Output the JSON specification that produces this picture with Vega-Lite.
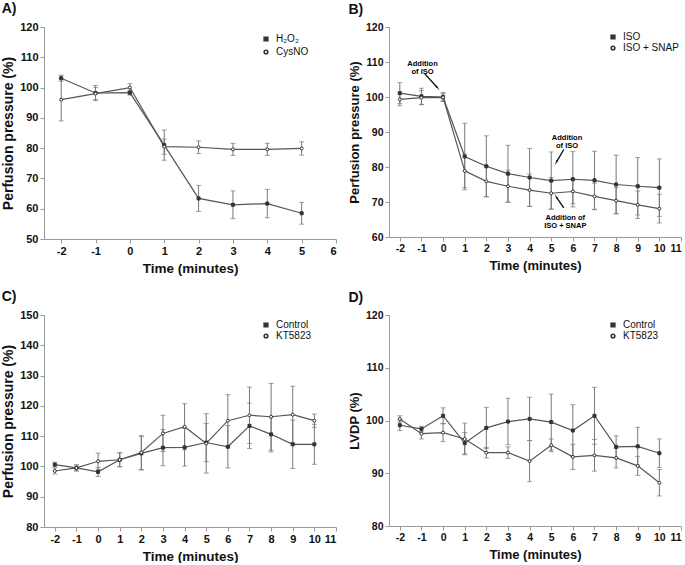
{
  "$schema": "https://vega.github.io/schema/vega-lite/v6.json",
  "background": "white",
  "padding": {"left": 1, "top": 2, "right": 2, "bottom": 0},
  "config": {
    "font": "Liberation Sans",
    "view": {"stroke": null},
    "axis": {"grid": false, "domainColor": "#9a9a9a", "tickColor": "#9a9a9a", "tickSize": 4, "labelFontWeight": "bold", "labelColor": "#111", "titleFontWeight": "bold", "titleColor": "#111", "labelPadding": 2, "titlePadding": 4, "labelExpr": "datum.value"},
    "title": {"fontSize": 14, "fontWeight": "bold", "anchor": "start", "frame": "bounds", "color": "#111", "offset": 5},
    "legend": {"labelFontSize": 10, "labelColor": "#111", "rowPadding": 1, "symbolSize": 14, "labelOffset": 5}
  },
  "datasets": {
    "A": [
      {"t": -2, "series": "H₂O₂", "mean": 103.1, "err": 1.0},
      {"t": -1, "series": "H₂O₂", "mean": 98.2, "err": 2.5},
      {"t": 0, "series": "H₂O₂", "mean": 98.3, "err": 0.8},
      {"t": 1, "series": "H₂O₂", "mean": 81.0, "err": 5.0},
      {"t": 2, "series": "H₂O₂", "mean": 63.4, "err": 4.3},
      {"t": 3, "series": "H₂O₂", "mean": 61.3, "err": 4.6},
      {"t": 4, "series": "H₂O₂", "mean": 61.7, "err": 4.7},
      {"t": 5, "series": "H₂O₂", "mean": 58.5, "err": 3.6},
      {"t": -2, "series": "CysNO", "mean": 96.0, "err": 7.0},
      {"t": -1, "series": "CysNO", "mean": 98.0, "err": 2.0},
      {"t": 0, "series": "CysNO", "mean": 100.0, "err": 1.3},
      {"t": 1, "series": "CysNO", "mean": 80.5, "err": 2.5},
      {"t": 2, "series": "CysNO", "mean": 80.3, "err": 2.1},
      {"t": 3, "series": "CysNO", "mean": 79.6, "err": 2.0},
      {"t": 4, "series": "CysNO", "mean": 79.6, "err": 2.0},
      {"t": 5, "series": "CysNO", "mean": 79.9, "err": 2.2}
    ],
    "B": [
      {"t": -2, "series": "ISO", "mean": 101.1, "err": 3.0},
      {"t": -1, "series": "ISO", "mean": 100.2, "err": 2.3},
      {"t": 0, "series": "ISO", "mean": 100.0, "err": 1.3},
      {"t": 1, "series": "ISO", "mean": 83.0, "err": 9.5},
      {"t": 2, "series": "ISO", "mean": 80.2, "err": 8.7},
      {"t": 3, "series": "ISO", "mean": 78.1, "err": 8.1},
      {"t": 4, "series": "ISO", "mean": 77.0, "err": 8.3},
      {"t": 5, "series": "ISO", "mean": 76.1, "err": 8.2},
      {"t": 6, "series": "ISO", "mean": 76.5, "err": 7.9},
      {"t": 7, "series": "ISO", "mean": 76.2, "err": 8.3},
      {"t": 8, "series": "ISO", "mean": 75.0, "err": 8.4},
      {"t": 9, "series": "ISO", "mean": 74.5, "err": 8.2},
      {"t": 10, "series": "ISO", "mean": 74.1, "err": 8.2},
      {"t": -2, "series": "ISO + SNAP", "mean": 99.3, "err": 1.8},
      {"t": -1, "series": "ISO + SNAP", "mean": 99.8, "err": 2.0},
      {"t": 0, "series": "ISO + SNAP", "mean": 99.9, "err": 1.0},
      {"t": 1, "series": "ISO + SNAP", "mean": 78.9, "err": 4.8},
      {"t": 2, "series": "ISO + SNAP", "mean": 75.9, "err": 4.4},
      {"t": 3, "series": "ISO + SNAP", "mean": 74.5, "err": 4.6},
      {"t": 4, "series": "ISO + SNAP", "mean": 73.4, "err": 4.6},
      {"t": 5, "series": "ISO + SNAP", "mean": 72.5, "err": 4.5},
      {"t": 6, "series": "ISO + SNAP", "mean": 73.0, "err": 3.5},
      {"t": 7, "series": "ISO + SNAP", "mean": 71.6, "err": 3.8},
      {"t": 8, "series": "ISO + SNAP", "mean": 70.4, "err": 3.7},
      {"t": 9, "series": "ISO + SNAP", "mean": 69.2, "err": 3.9},
      {"t": 10, "series": "ISO + SNAP", "mean": 68.1, "err": 4.1}
    ],
    "annB": [
      {"t": -0.95, "mean": 110.5, "label": "Addition\nof ISO"},
      {"t": 5.73, "mean": 89.5, "label": "Addition\nof ISO"},
      {"t": 5.65, "mean": 66.7, "label": "Addition of\nISO + SNAP"}
    ],
    "arrB": [
      {"id": 1, "t": -0.84, "mean": 106.6, "t2": -0.27, "mean2": 102.7},
      {"id": 2, "t": 5.58, "mean": 85.0, "t2": 5.24, "mean2": 81.4},
      {"id": 3, "t": 5.58, "mean": 68.3, "t2": 5.24, "mean2": 71.4}
    ],
    "C": [
      {"t": -2, "series": "Control", "mean": 100.6, "err": 0.8},
      {"t": -1, "series": "Control", "mean": 99.5, "err": 1.0},
      {"t": 0, "series": "Control", "mean": 98.2, "err": 1.5},
      {"t": 1, "series": "Control", "mean": 102.2, "err": 2.3},
      {"t": 2, "series": "Control", "mean": 104.3, "err": 5.5},
      {"t": 3, "series": "Control", "mean": 106.2, "err": 6.0},
      {"t": 4, "series": "Control", "mean": 106.3, "err": 6.2},
      {"t": 5, "series": "Control", "mean": 107.9, "err": 6.3},
      {"t": 6, "series": "Control", "mean": 106.5, "err": 7.0},
      {"t": 7, "series": "Control", "mean": 113.4, "err": 7.5},
      {"t": 8, "series": "Control", "mean": 110.6, "err": 5.8},
      {"t": 9, "series": "Control", "mean": 107.3, "err": 8.0},
      {"t": 10, "series": "Control", "mean": 107.3, "err": 6.6},
      {"t": -2, "series": "KT5823", "mean": 98.5, "err": 1.0},
      {"t": -1, "series": "KT5823", "mean": 99.5, "err": 1.0},
      {"t": 0, "series": "KT5823", "mean": 101.7, "err": 2.7},
      {"t": 1, "series": "KT5823", "mean": 102.2, "err": 2.3},
      {"t": 2, "series": "KT5823", "mean": 104.6, "err": 5.6},
      {"t": 3, "series": "KT5823", "mean": 110.9, "err": 6.0},
      {"t": 4, "series": "KT5823", "mean": 113.1, "err": 7.6},
      {"t": 5, "series": "KT5823", "mean": 107.6, "err": 9.8},
      {"t": 6, "series": "KT5823", "mean": 115.1, "err": 8.6},
      {"t": 7, "series": "KT5823", "mean": 116.9, "err": 9.3},
      {"t": 8, "series": "KT5823", "mean": 116.4, "err": 11.0},
      {"t": 9, "series": "KT5823", "mean": 117.1, "err": 9.4},
      {"t": 10, "series": "KT5823", "mean": 115.1, "err": 2.2}
    ],
    "D": [
      {"t": -2, "series": "Control", "mean": 99.1, "err": 1.0},
      {"t": -1, "series": "Control", "mean": 98.4, "err": 0.5},
      {"t": 0, "series": "Control", "mean": 100.9, "err": 1.5},
      {"t": 1, "series": "Control", "mean": 95.7, "err": 2.0},
      {"t": 2, "series": "Control", "mean": 98.6, "err": 3.9},
      {"t": 3, "series": "Control", "mean": 99.8, "err": 4.4},
      {"t": 4, "series": "Control", "mean": 100.3, "err": 4.1},
      {"t": 5, "series": "Control", "mean": 99.7, "err": 5.3},
      {"t": 6, "series": "Control", "mean": 98.1, "err": 4.9},
      {"t": 7, "series": "Control", "mean": 100.9, "err": 5.4},
      {"t": 8, "series": "Control", "mean": 95.0, "err": 2.1},
      {"t": 9, "series": "Control", "mean": 95.1, "err": 3.6},
      {"t": 10, "series": "Control", "mean": 93.8, "err": 2.7},
      {"t": -2, "series": "KT5823", "mean": 100.3, "err": 0.6},
      {"t": -1, "series": "KT5823", "mean": 97.5, "err": 1.0},
      {"t": 0, "series": "KT5823", "mean": 97.7, "err": 1.7},
      {"t": 1, "series": "KT5823", "mean": 96.5, "err": 3.0},
      {"t": 2, "series": "KT5823", "mean": 93.9, "err": 1.0},
      {"t": 3, "series": "KT5823", "mean": 93.9, "err": 1.1},
      {"t": 4, "series": "KT5823", "mean": 92.3, "err": 3.9},
      {"t": 5, "series": "KT5823", "mean": 95.3, "err": 1.2},
      {"t": 6, "series": "KT5823", "mean": 93.1, "err": 2.4},
      {"t": 7, "series": "KT5823", "mean": 93.4, "err": 3.0},
      {"t": 8, "series": "KT5823", "mean": 92.9, "err": 1.9},
      {"t": 9, "series": "KT5823", "mean": 91.4, "err": 1.8},
      {"t": 10, "series": "KT5823", "mean": 88.2, "err": 2.5}
    ]
  },
  "columns": 2,
  "spacing": {"row": 15, "column": 11},
  "resolve": {"scale": {"x": "independent", "y": "independent", "shape": "independent", "fill": "independent"}, "legend": {"shape": "independent", "fill": "independent"}},
  "concat": [
    {
      "title": {"text": "A)"},
      "width": 292, "height": 212,
      "data": {"name": "A"},
      "encoding": {
        "x": {"field": "t", "type": "quantitative", "scale": {"domain": [-2.5, 6], "nice": false, "zero": false}, "axis": {"values": [-2, -1, 0, 1, 2, 3, 4, 5, 6], "title": "Time (minutes)", "labelFontSize": 11, "titleFontSize": 13.5, "titlePadding": 5}},
        "y": {"field": "mean", "type": "quantitative", "scale": {"domain": [50, 120], "nice": false, "zero": false}, "axis": {"values": [50, 60, 70, 80, 90, 100, 110, 120], "title": "Perfusion pressure (%)", "labelFontSize": 11, "titleFontSize": 14}}
      },
      "layer": [
        {"mark": {"type": "errorbar", "ticks": {"size": 5}, "color": "#777", "thickness": 1}, "encoding": {"yError": {"field": "err"}}},
        {"mark": {"type": "line", "color": "#555", "strokeWidth": 1.2}, "encoding": {"detail": {"field": "series"}}},
        {"mark": {"type": "point", "size": 9, "stroke": "#333", "strokeWidth": 1, "opacity": 1},
         "encoding": {
           "shape": {"field": "series", "type": "nominal", "scale": {"domain": ["H₂O₂", "CysNO"], "range": ["square", "circle"]}, "legend": {"orient": "none", "legendX": 217, "legendY": 7, "title": null, "rowPadding": 3}},
           "fill": {"field": "series", "type": "nominal", "scale": {"domain": ["H₂O₂", "CysNO"], "range": ["#333", "white"]}, "legend": {"orient": "none", "legendX": 217, "legendY": 7, "title": null, "rowPadding": 3}}
         }}
      ]
    },
    {
      "title": {"text": "B)"},
      "width": 292, "height": 210,
      "data": {"name": "B"},
      "encoding": {
        "x": {"field": "t", "type": "quantitative", "scale": {"domain": [-2.5, 11], "nice": false, "zero": false}, "axis": {"values": [-2, -1, 0, 1, 2, 3, 4, 5, 6, 7, 8, 9, 10, 11], "title": "Time (minutes)", "labelFontSize": 10.5, "titleFontSize": 13, "titlePadding": 6}},
        "y": {"field": "mean", "type": "quantitative", "scale": {"domain": [60, 120], "nice": false, "zero": false}, "axis": {"values": [60, 70, 80, 90, 100, 110, 120], "title": "Perfusion pressure (%)", "labelFontSize": 10.5, "titleFontSize": 13}}
      },
      "layer": [
        {"mark": {"type": "errorbar", "ticks": {"size": 5}, "color": "#777", "thickness": 1}, "encoding": {"yError": {"field": "err"}}},
        {"mark": {"type": "line", "color": "#555", "strokeWidth": 1.2}, "encoding": {"detail": {"field": "series"}}},
        {"mark": {"type": "point", "size": 9, "stroke": "#333", "strokeWidth": 1, "opacity": 1},
         "encoding": {
           "shape": {"field": "series", "type": "nominal", "scale": {"domain": ["ISO", "ISO + SNAP"], "range": ["square", "circle"]}, "legend": {"orient": "none", "legendX": 219, "legendY": 5, "title": null}},
           "fill": {"field": "series", "type": "nominal", "scale": {"domain": ["ISO", "ISO + SNAP"], "range": ["#333", "white"]}, "legend": {"orient": "none", "legendX": 219, "legendY": 5, "title": null}}
         }},
        {"data": {"name": "annB"}, "mark": {"type": "text", "fontSize": 7.5, "fontWeight": "bold", "lineBreak": "\n", "lineHeight": 8, "align": "center", "baseline": "top", "color": "#000"}, "encoding": {"text": {"field": "label"}}},
        {"data": {"name": "arrB"}, "mark": {"type": "rule", "color": "#111", "strokeWidth": 1.4}, "encoding": {"x2": {"field": "t2"}, "y2": {"field": "mean2"}}},
        {"data": {"name": "arrB"}, "transform": [{"filter": "datum.id == 1"}], "mark": {"type": "point", "shape": "wedge", "angle": 140, "size": 45, "filled": true, "color": "#111", "opacity": 1}, "encoding": {"x": {"field": "t2", "type": "quantitative"}, "y": {"field": "mean2", "type": "quantitative"}}},
        {"data": {"name": "arrB"}, "transform": [{"filter": "datum.id == 2"}], "mark": {"type": "point", "shape": "wedge", "angle": 209, "size": 45, "filled": true, "color": "#111", "opacity": 1}, "encoding": {"x": {"field": "t2", "type": "quantitative"}, "y": {"field": "mean2", "type": "quantitative"}}},
        {"data": {"name": "arrB"}, "transform": [{"filter": "datum.id == 3"}], "mark": {"type": "point", "shape": "wedge", "angle": 327, "size": 45, "filled": true, "color": "#111", "opacity": 1}, "encoding": {"x": {"field": "t2", "type": "quantitative"}, "y": {"field": "mean2", "type": "quantitative"}}}
      ]
    },
    {
      "title": {"text": "C)"},
      "width": 292, "height": 212,
      "data": {"name": "C"},
      "encoding": {
        "x": {"field": "t", "type": "quantitative", "scale": {"domain": [-2.5, 11], "nice": false, "zero": false}, "axis": {"values": [-2, -1, 0, 1, 2, 3, 4, 5, 6, 7, 8, 9, 10, 11], "title": "Time (minutes)", "labelFontSize": 11, "titleFontSize": 13.5, "titlePadding": 5}},
        "y": {"field": "mean", "type": "quantitative", "scale": {"domain": [80, 150], "nice": false, "zero": false}, "axis": {"values": [80, 90, 100, 110, 120, 130, 140, 150], "title": "Perfusion pressure (%)", "labelFontSize": 11, "titleFontSize": 14}}
      },
      "layer": [
        {"mark": {"type": "errorbar", "ticks": {"size": 5}, "color": "#777", "thickness": 1}, "encoding": {"yError": {"field": "err"}}},
        {"mark": {"type": "line", "color": "#555", "strokeWidth": 1.2}, "encoding": {"detail": {"field": "series"}}},
        {"mark": {"type": "point", "size": 9, "stroke": "#333", "strokeWidth": 1, "opacity": 1},
         "encoding": {
           "shape": {"field": "series", "type": "nominal", "scale": {"domain": ["Control", "KT5823"], "range": ["square", "circle"]}, "legend": {"orient": "none", "legendX": 217, "legendY": 5, "title": null}},
           "fill": {"field": "series", "type": "nominal", "scale": {"domain": ["Control", "KT5823"], "range": ["#333", "white"]}, "legend": {"orient": "none", "legendX": 217, "legendY": 5, "title": null}}
         }}
      ]
    },
    {
      "title": {"text": "D)"},
      "width": 292, "height": 211,
      "data": {"name": "D"},
      "encoding": {
        "x": {"field": "t", "type": "quantitative", "scale": {"domain": [-2.5, 11], "nice": false, "zero": false}, "axis": {"values": [-2, -1, 0, 1, 2, 3, 4, 5, 6, 7, 8, 9, 10, 11], "title": "Time (minutes)", "labelFontSize": 10.5, "titleFontSize": 13, "titlePadding": 6}},
        "y": {"field": "mean", "type": "quantitative", "scale": {"domain": [80, 120], "nice": false, "zero": false}, "axis": {"values": [80, 90, 100, 110, 120], "title": "LVDP (%)", "labelFontSize": 10.5, "titleFontSize": 13}}
      },
      "layer": [
        {"mark": {"type": "errorbar", "ticks": {"size": 5}, "color": "#777", "thickness": 1}, "encoding": {"yError": {"field": "err"}}},
        {"mark": {"type": "line", "color": "#555", "strokeWidth": 1.2}, "encoding": {"detail": {"field": "series"}}},
        {"mark": {"type": "point", "size": 9, "stroke": "#333", "strokeWidth": 1, "opacity": 1},
         "encoding": {
           "shape": {"field": "series", "type": "nominal", "scale": {"domain": ["Control", "KT5823"], "range": ["square", "circle"]}, "legend": {"orient": "none", "legendX": 219, "legendY": 5, "title": null}},
           "fill": {"field": "series", "type": "nominal", "scale": {"domain": ["Control", "KT5823"], "range": ["#333", "white"]}, "legend": {"orient": "none", "legendX": 219, "legendY": 5, "title": null}}
         }}
      ]
    }
  ]
}
